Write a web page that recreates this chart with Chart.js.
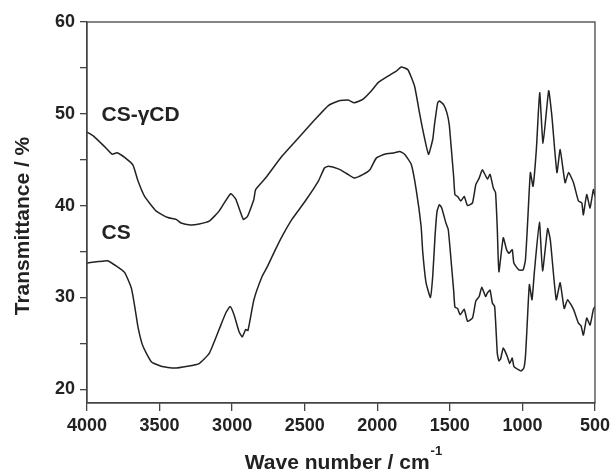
<!DOCTYPE html>
<html>
<head>
<meta charset="utf-8">
<script src="https://cdn.jsdelivr.net/npm/chart.js@4/dist/chart.umd.min.js"></script>
<style>
	body { margin: 0; background: #fff; }
</style>
</head>
<body>
<canvas id="myChart" width="614" height="472"></canvas>
<script>
'use strict';

// wavenumbers (cm-1) and transmittance (%)
var cdWave = [4000, 3957, 3877, 3827, 3793, 3728, 3683, 3649, 3603, 3523,
	3443, 3386, 3352, 3288, 3227, 3158, 3090, 3010, 2975, 2923,
	2896, 2884, 2850, 2838, 2770, 2656, 2542, 2428, 2337, 2268,
	2200, 2159, 2097, 2040, 1994, 1926, 1869, 1835, 1789, 1743,
	1709, 1687, 1647, 1618, 1606, 1584, 1572, 1543, 1520, 1504,
	1493, 1474, 1465, 1447, 1424, 1401, 1378, 1344, 1321, 1298,
	1276, 1241, 1223, 1200, 1185, 1173, 1162, 1132, 1109, 1093,
	1070, 1059, 1025, 995, 979, 963, 945, 927, 904, 881,
	858, 819, 797, 762, 740, 706, 682, 648, 614, 591,
	580, 557, 534, 511, 500];
var cdTrans = [48.0, 47.6, 46.4, 45.6, 45.75, 45.1, 44.4, 42.7, 41.0, 39.4,
	38.7, 38.5, 38.1, 37.9, 38.0, 38.3, 39.4, 41.3, 40.7, 38.5,
	38.8, 39.2, 40.7, 41.75, 43.0, 45.4, 47.4, 49.4, 50.9, 51.4,
	51.5, 51.2, 51.6, 52.5, 53.4, 54.1, 54.65, 55.1, 54.8, 53.0,
	50.1, 48.3, 45.6, 47.2, 48.8, 51.2, 51.4, 51.0, 50.1, 48.8,
	46.8, 43.2, 41.2, 41.0, 40.5, 41.0, 40.0, 40.3, 42.3, 43.0,
	43.9, 42.9, 43.4, 41.9, 41.4, 37.4, 32.8, 36.5, 35.2, 34.8,
	35.2, 33.75, 33.0, 33.0, 34.1, 38.5, 43.6, 42.1, 46.1, 52.3,
	46.8, 52.5, 49.75, 43.6, 46.1, 42.5, 43.6, 42.5, 40.5, 40.3,
	39.0, 41.2, 39.75, 41.75, 41.0];

var csWave = [4000, 3923, 3858, 3797, 3740, 3694, 3671, 3649, 3615, 3557,
	3489, 3398, 3307, 3227, 3158, 3090, 3044, 3014, 2987, 2953,
	2930, 2907, 2891, 2850, 2793, 2759, 2702, 2656, 2588, 2496,
	2405, 2364, 2337, 2268, 2211, 2159, 2097, 2051, 2006, 1949,
	1880, 1846, 1812, 1766, 1732, 1698, 1687, 1664, 1634, 1618,
	1602, 1588, 1572, 1556, 1527, 1511, 1493, 1474, 1465, 1447,
	1429, 1401, 1378, 1344, 1321, 1298, 1280, 1253, 1241, 1223,
	1207, 1191, 1173, 1162, 1150, 1132, 1105, 1087, 1070, 1059,
	1025, 1009, 990, 979, 968, 952, 934, 918, 883, 861,
	826, 808, 767, 740, 712, 689, 648, 614, 596, 580,
	557, 534, 511, 500];
var csTrans = [33.75, 33.9, 34.0, 33.4, 32.7, 31.0, 29.0, 26.8, 24.7, 23.0,
	22.5, 22.3, 22.5, 22.8, 23.9, 26.5, 28.3, 29.0, 28.1, 26.3,
	25.7, 26.5, 26.4, 29.75, 32.3, 33.3, 35.2, 36.65, 38.5, 40.5,
	42.7, 44.1, 44.3, 44.0, 43.5, 43.0, 43.4, 43.9, 45.2, 45.6,
	45.75, 45.9, 45.6, 44.5, 41.75, 37.75, 35.0, 31.6, 30.0, 32.3,
	36.7, 39.4, 40.1, 39.75, 38.1, 37.4, 34.3, 30.8, 28.95, 28.8,
	28.1, 28.7, 27.4, 27.75, 29.6, 30.1, 31.1, 30.1, 30.5, 30.8,
	29.4, 29.0, 23.9, 23.1, 23.3, 24.5, 23.6, 22.8, 23.4, 22.5,
	22.1, 22.0, 22.3, 23.6, 26.8, 31.4, 29.75, 32.7, 38.2, 32.9,
	37.5, 36.3, 29.75, 31.6, 28.8, 29.75, 28.7, 27.2, 26.9, 25.9,
	27.75, 27.0, 28.7, 29.0];

var xTicks = [4000, 3500, 3000, 2500, 2000, 1500, 1000, 500];
var yTicks = [20, 30, 40, 50, 60];
var yMinorTicks = [25, 35, 45, 55];

var sampleNames = ['CS-\u03B3CD', 'CS'];
// where the sample names sit (data units)
var nameWave = [3900, 3900];
var nameTrans = [49.9, 36.95];

var fontFamily = '"Liberation Sans", Arial, sans-serif';
var ink = '#222';

function toPoints(wave, trans) {
	return wave.map(function (w, i) { return {x: w, y: trans[i]}; });
}

var framePlugin = {
	id: 'frame',
	afterDatasetsDraw: function (chart) {
		var a = chart.chartArea;
		var c = chart.ctx;
		c.save();
		c.strokeStyle = '#444';
		c.lineWidth = 1.3;
		c.strokeRect(a.left, a.top, a.right - a.left, a.bottom - a.top);
		c.restore();
	}
};

// sample names + axis titles (x title needs a real superscript)
var textPlugin = {
	id: 'texts',
	afterDraw: function (chart) {
		var c = chart.ctx;
		var sx = chart.scales.x, sy = chart.scales.y;
		var a = chart.chartArea;
		c.save();
		c.fillStyle = ink;
		c.font = 'bold 21px ' + fontFamily;
		c.textAlign = 'left';
		c.textBaseline = 'middle';
		for (var i = 0; i < sampleNames.length; i++) {
			c.fillText(sampleNames[i], sx.getPixelForValue(nameWave[i]), sy.getPixelForValue(nameTrans[i]));
		}

		// x title
		var main = 'Wave number / cm';
		var sup = '-1';
		c.font = 'bold 21px ' + fontFamily;
		var w1 = c.measureText(main).width;
		c.font = 'bold 13px ' + fontFamily;
		var w2 = c.measureText(sup).width;
		var x0 = (a.left + a.right) / 2 - (w1 + w2) / 2 + 2;
		c.font = 'bold 21px ' + fontFamily;
		c.fillText(main, x0, 463);
		c.font = 'bold 13px ' + fontFamily;
		c.fillText(sup, x0 + w1 + 1, 451);

		// y title
		c.translate(23, 226);
		c.rotate(-Math.PI / 2);
		c.font = 'bold 21px ' + fontFamily;
		c.textAlign = 'center';
		c.fillText('Transmittance / %', 0, 0);
		c.restore();
	}
};

var ctx = document.getElementById('myChart').getContext('2d');
var myChart = new Chart(ctx, {
	type: 'scatter',
	data: {
		datasets: [{
			label: sampleNames[0],
			data: toPoints(cdWave, cdTrans),
			showLine: true,
			borderColor: ink,
			borderWidth: 1.5,
			pointRadius: 0,
			tension: 0.15
		}, {
			label: sampleNames[1],
			data: toPoints(csWave, csTrans),
			showLine: true,
			borderColor: ink,
			borderWidth: 1.5,
			pointRadius: 0,
			tension: 0.15
		}]
	},
	options: {
		responsive: false,
		animation: false,
		layout: {padding: {top: 22, right: 16, left: 0, bottom: 0}},
		plugins: {legend: {display: false}, tooltip: {enabled: false}},
		scales: {
			x: {
				type: 'linear',
				reverse: true,
				min: 500,
				max: 4000,
				afterBuildTicks: function (scale) {
					scale.ticks = xTicks.map(function (v) { return {value: v}; });
				},
				afterFit: function (scale) { scale.height = 69; },
				grid: {drawOnChartArea: false, tickLength: 8, color: '#444', lineWidth: 1.3},
				border: {color: '#444', width: 1.3},
				ticks: {
					color: ink,
					padding: 4,
					maxRotation: 0,
					font: {family: fontFamily, size: 18, weight: 'bold'},
					callback: function (v) { return String(v); }
				}
			},
			y: {
				type: 'linear',
				min: 18.5,
				max: 60,
				afterBuildTicks: function (scale) {
					scale.ticks = yTicks.concat(yMinorTicks).sort(function (a, b) { return a - b; })
						.map(function (v) { return {value: v}; });
				},
				afterFit: function (scale) { scale.width = 87; },
				grid: {drawOnChartArea: false, tickLength: 7, color: '#444', lineWidth: 1.3},
				border: {color: '#444', width: 1.3},
				ticks: {
					color: ink,
					padding: 5,
					font: {family: fontFamily, size: 18, weight: 'bold'},
					callback: function (v) { return yTicks.indexOf(v) >= 0 ? String(v) : ''; }
				}
			}
		}
	},
	plugins: [framePlugin, textPlugin]
});
</script>
</body>
</html>
